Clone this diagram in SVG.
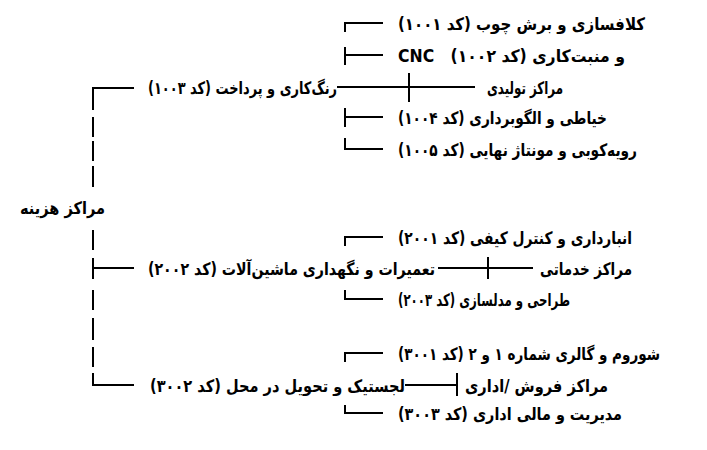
<svg xmlns="http://www.w3.org/2000/svg" width="707" height="450" viewBox="0 0 707 450">
<style>
text{font-family:"DejaVu Sans",sans-serif;font-weight:bold;font-size:17px;fill:#000;direction:rtl;unicode-bidi:embed;text-anchor:start}
.c line{stroke:#000;stroke-width:2;fill:none}
</style>
<rect width="707" height="450" fill="#fff"/>
<g class="c" id="connectors">
<line x1="93" y1="88" x2="134" y2="88"/>
<line x1="93" y1="87" x2="93" y2="110"/>
<line x1="93" y1="117" x2="93" y2="137"/>
<line x1="93" y1="141" x2="93" y2="161"/>
<line x1="93" y1="166" x2="93" y2="187"/>
<line x1="93" y1="230" x2="93" y2="250"/>
<line x1="93" y1="258" x2="93" y2="279"/>
<line x1="93" y1="268" x2="134" y2="268"/>
<line x1="93" y1="290" x2="93" y2="310"/>
<line x1="93" y1="318" x2="93" y2="340"/>
<line x1="93" y1="347" x2="93" y2="367"/>
<line x1="93" y1="373" x2="93" y2="386"/>
<line x1="92" y1="385" x2="134" y2="385"/>
<line x1="345" y1="23" x2="383" y2="23"/>
<line x1="345" y1="22" x2="345" y2="32"/>
<line x1="345" y1="47" x2="345" y2="65"/>
<line x1="345" y1="55" x2="383" y2="55"/>
<line x1="337" y1="87" x2="475" y2="87"/>
<line x1="409" y1="73" x2="409" y2="102"/>
<line x1="345" y1="108" x2="345" y2="127"/>
<line x1="345" y1="117" x2="383" y2="117"/>
<line x1="345" y1="138" x2="345" y2="150"/>
<line x1="344" y1="149" x2="383" y2="149"/>
<line x1="345" y1="237" x2="383" y2="237"/>
<line x1="345" y1="236" x2="345" y2="246"/>
<line x1="438" y1="268" x2="533" y2="268"/>
<line x1="488" y1="257" x2="488" y2="279"/>
<line x1="345" y1="290" x2="345" y2="300"/>
<line x1="344" y1="299" x2="383" y2="299"/>
<line x1="345" y1="353" x2="383" y2="353"/>
<line x1="345" y1="352" x2="345" y2="362"/>
<line x1="405" y1="385" x2="457" y2="385"/>
<line x1="457" y1="373" x2="457" y2="396"/>
<line x1="345" y1="405" x2="345" y2="414"/>
<line x1="344" y1="413" x2="383" y2="413"/>
</g>
<g id="root"><text x="105" y="214" textLength="85" lengthAdjust="spacingAndGlyphs">مراکز هزینه</text></g>
<g id="production">
<text x="563" y="94" textLength="76" lengthAdjust="spacingAndGlyphs">مراکز تولیدی</text>
</g>
<g id="n1001"><text x="645" y="30" textLength="247" lengthAdjust="spacingAndGlyphs">کلافسازی و برش چوب (کد ۱۰۰۱)</text></g>
<g id="n1002"><text x="625" y="62" textLength="227" lengthAdjust="spacingAndGlyphs">و منبت‌کاری (کد ۱۰۰۲)&#160;&#160; CNC</text></g>
<g id="n1003"><text x="337" y="94" textLength="189" lengthAdjust="spacingAndGlyphs">رنگ‌کاری و پرداخت (کد ۱۰۰۳)</text></g>
<g id="n1004"><text x="607" y="124" textLength="209" lengthAdjust="spacingAndGlyphs">خیاطی و الگوبرداری (کد ۱۰۰۴)</text></g>
<g id="n1005"><text x="637" y="156" textLength="239" lengthAdjust="spacingAndGlyphs">رویه‌کوبی و مونتاژ نهایی (کد ۱۰۰۵)</text></g>
<g id="services">
<text x="632" y="275" textLength="92" lengthAdjust="spacingAndGlyphs">مراکز خدماتی</text>
</g>
<g id="n2001"><text x="632" y="244" textLength="234" lengthAdjust="spacingAndGlyphs">انبارداری و کنترل کیفی (کد ۲۰۰۱)</text></g>
<g id="n2002"><text x="435" y="275" textLength="287" lengthAdjust="spacingAndGlyphs">تعمیرات و نگهداری ماشین‌آلات (کد ۲۰۰۲)</text></g>
<g id="n2003"><text x="570" y="306" textLength="172" lengthAdjust="spacingAndGlyphs">طراحی و مدلسازی (کد ۲۰۰۳)</text></g>
<g id="sales">
<text x="608" y="392" textLength="143" lengthAdjust="spacingAndGlyphs">مراکز فروش /اداری</text>
</g>
<g id="n3001"><text x="660" y="360" textLength="262" lengthAdjust="spacingAndGlyphs">شوروم و گالری شماره ۱ و ۲ (کد ۳۰۰۱)</text></g>
<g id="n3002"><text x="405" y="392" textLength="255" lengthAdjust="spacingAndGlyphs">لجستیک و تحویل در محل (کد ۳۰۰۲)</text></g>
<g id="n3003"><text x="622" y="420" textLength="224" lengthAdjust="spacingAndGlyphs">مدیریت و مالی اداری (کد ۳۰۰۳)</text></g>
</svg>
